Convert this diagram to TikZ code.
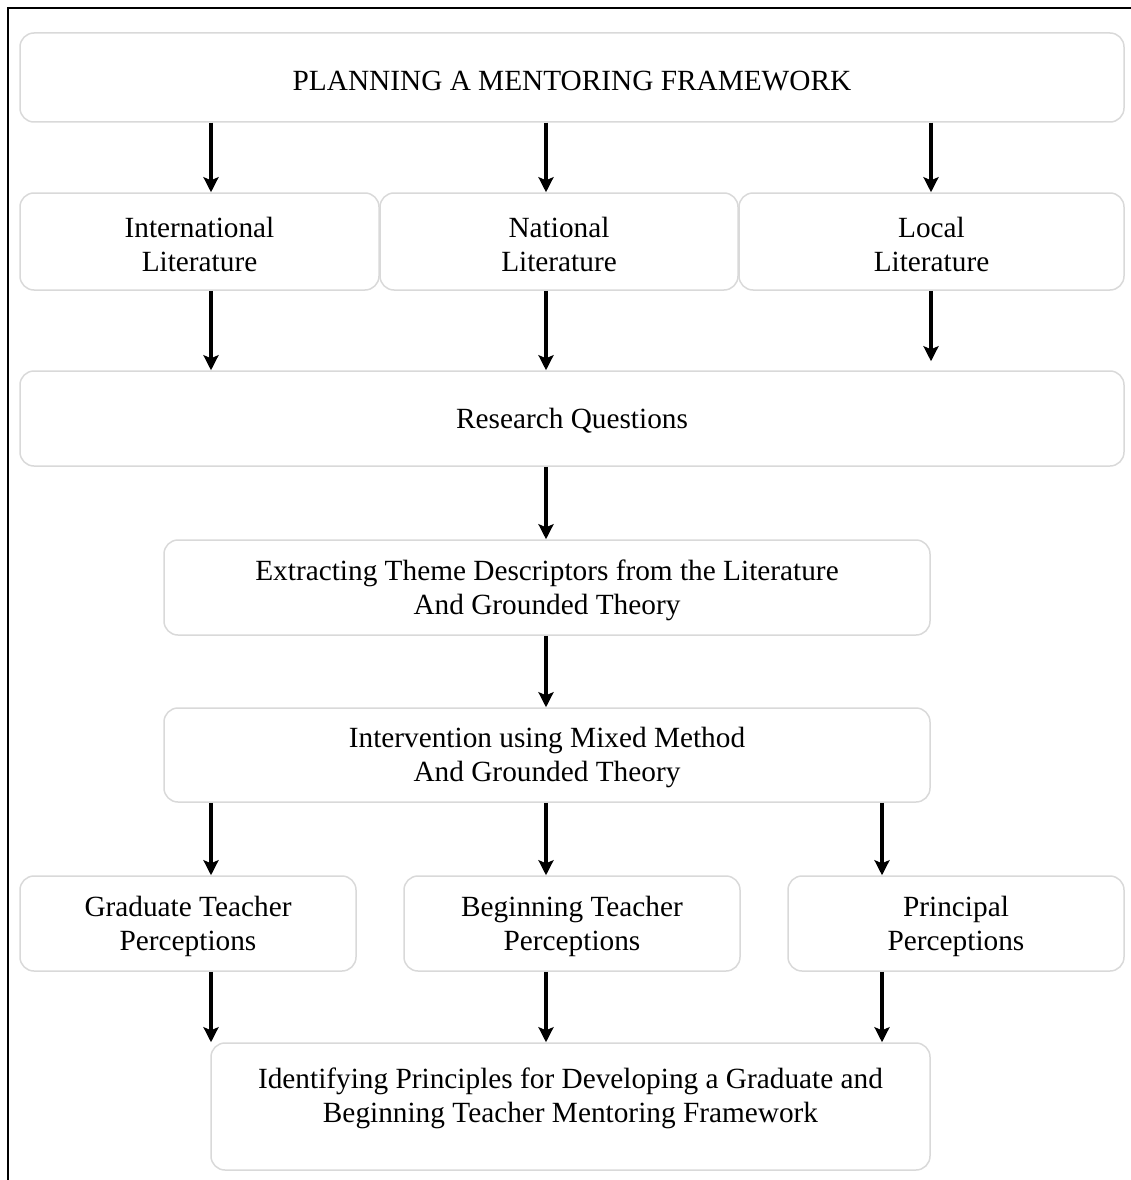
\documentclass[tikz,border=0pt]{standalone}
\usepackage{fontspec}
\setmainfont{Liberation Serif}
\usetikzlibrary{arrows.meta}
\definecolor{boxgray}{HTML}{D9D9D9}
\tikzset{
  box/.style={draw=boxgray, line width=1.5pt, rounded corners=14pt, inner sep=0pt},
  flow/.style={line width=4pt, -{Stealth[width=15pt,length=15pt,inset=3pt]}},
  txt/.style={inner sep=0pt, align=center, font=\fontsize{29.3}{34}\selectfont},
  frame/.style={line width=2pt}
}
% #1 name, #2 width, #3 height, #4 centre, #5 text shift, #6 text
\newcommand\flowbox[6]{%
  \node[box, minimum width=#2, minimum height=#3] (#1) at #4 {};
  \node[txt] (#1t) at ([yshift=#5]#1.center) {#6};}
\begin{document}
\begin{tikzpicture}[x=1pt,y=-1pt]
\useasboundingbox (0,0) rectangle (1131,1180);
% outer frame (left and top)
\coordinate (fbl) at (8,1180);
\coordinate (ftl) at (8,8);
\coordinate (ftr) at (1131,8);
\draw[frame] (fbl) -- (ftl) -- (ftr);

% columns for arrows
\coordinate (c1) at (211,0);
\coordinate (c2) at (546,0);
\coordinate (c3) at (931,0);
\coordinate (c4) at (882,0);

\flowbox{top}{1104pt}{89pt}{(572,77.5)}{-4pt}{PLANNING A MENTORING FRAMEWORK}
\flowbox{intl}{359pt}{97pt}{(199.5,241.5)}{-2.5pt}{International\\Literature}
\flowbox{natl}{358pt}{97pt}{(559,241.5)}{-2.5pt}{National\\Literature}
\flowbox{local}{385pt}{97pt}{(931.5,241.5)}{-2.5pt}{Local\\Literature}
\flowbox{rq}{1104pt}{95pt}{(572,418.5)}{-2.5pt}{Research Questions}
\flowbox{ext}{766pt}{95pt}{(547,587.5)}{-2.5pt}{Extracting Theme Descriptors from the Literature\\And Grounded Theory}
\flowbox{intv}{766pt}{94pt}{(547,755)}{-2.5pt}{Intervention using Mixed Method\\And Grounded Theory}
\flowbox{grad}{336pt}{95pt}{(188,923.5)}{-2.5pt}{Graduate Teacher\\Perceptions}
\flowbox{beg}{336pt}{95pt}{(572,923.5)}{-2.5pt}{Beginning Teacher\\Perceptions}
\flowbox{prin}{336pt}{95pt}{(956,923.5)}{-2.5pt}{Principal\\Perceptions}
\flowbox{ident}{719pt}{127pt}{(570.5,1106.5)}{8pt}{Identifying Principles for Developing a Graduate and\\Beginning Teacher Mentoring Framework}

% arrows
\draw[flow] (top.south -| c1) -- (intl.north -| c1);
\draw[flow] (top.south -| c2) -- (natl.north -| c2);
\draw[flow] (top.south -| c3) -- (local.north -| c3);

\draw[flow] (intl.south -| c1) -- (rq.north -| c1);
\draw[flow] (natl.south -| c2) -- (rq.north -| c2);
\draw[flow, shorten >=9pt] (local.south -| c3) -- (rq.north -| c3);

\draw[flow] (rq.south -| c2) -- (ext.north -| c2);
\draw[flow] (ext.south -| c2) -- (intv.north -| c2);

\draw[flow] (intv.south -| c1) -- (grad.north -| c1);
\draw[flow] (intv.south -| c2) -- (beg.north -| c2);
\draw[flow] (intv.south -| c4) -- (prin.north -| c4);

\draw[flow] (grad.south -| c1) -- (ident.north -| c1);
\draw[flow] (beg.south -| c2) -- (ident.north -| c2);
\draw[flow] (prin.south -| c4) -- (ident.north -| c4);
\end{tikzpicture}
\end{document}
